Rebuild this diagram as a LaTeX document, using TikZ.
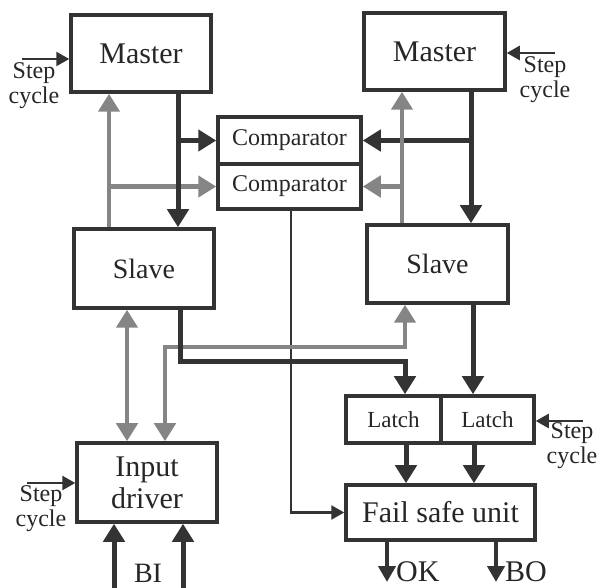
\documentclass[tikz,border=0pt]{standalone}
\usepackage{fontspec}
\setmainfont{Liberation Serif}
\usetikzlibrary{arrows.meta}
\definecolor{dk}{HTML}{333333}
\definecolor{gr}{HTML}{858585}
\begin{document}
\begin{tikzpicture}[x=1pt,y=-1pt,
  box/.style={draw=dk, line width=3.5pt, rectangle, inner sep=0pt, text=black!85},
  fs/.style={font=\fontsize{#1}{#1}\selectfont},
  lbl/.style={text=black!85, inner sep=0pt, align=center, font=\fontsize{24}{25}\selectfont},
  dkarrow/.style={draw=dk, line width=5pt, -{Triangle[length=18pt,width=21pt]}},
  grarrow/.style={draw=gr, line width=4.5pt, -{Triangle[length=18pt,width=21pt]}},
  grboth/.style={draw=gr, line width=4.5pt, {Triangle[length=18pt,width=21pt]}-{Triangle[length=18pt,width=21pt]}},
  thinarrow/.style={draw=dk, line width=2.5pt, -{Triangle[length=13pt,width=14pt]}},
  outarrow/.style={draw=dk, line width=4pt, -{Triangle[length=16pt,width=17pt]}}
]
\useasboundingbox (0,0) rectangle (598,588);

% boxes
\node[box, fs=30, minimum width=140pt, minimum height=77pt] (LM) at (141,53.5) {Master};
\node[box, fs=30, minimum width=141pt, minimum height=77pt] (RM) at (434.5,51.5) {Master};
\node[box, fs=24, minimum width=143pt, minimum height=47pt] (CT) at (289.5,140.5) {Comparator};
\node[box, fs=24, minimum width=143pt, minimum height=45pt] (CB) at (289.5,186.5) {Comparator};
\node[box, fs=28, minimum width=140pt, minimum height=79pt] (LS) at (144,268.5) {Slave};
\node[box, fs=28, minimum width=141pt, minimum height=78pt] (RS) at (437.5,264) {Slave};
\node[box, align=center, font=\fontsize{30}{32}\selectfont, minimum width=140pt, minimum height=79pt] (ID) at (147,482.5) {Input\\driver};
\node[box, fs=23, minimum width=95pt, minimum height=47pt] (LL) at (393.5,419.5) {Latch};
\node[box, fs=23, minimum width=93pt, minimum height=47pt] (LR) at (487.5,419.5) {Latch};
\node[box, fs=30, minimum width=189pt, minimum height=55pt] (FSU) at (440.5,512.5) {Fail safe unit};

% step cycle labels
\node[lbl] (sc1) at (34,86) {Step\\cycle};
\node[lbl] (sc2) at (545,80) {Step\\cycle};
\node[lbl] (sc3) at (41,509) {Step\\cycle};
\node[lbl] (sc4) at (572,446) {Step\\cycle};
\coordinate (s1) at (22,59);
\coordinate (s2) at (555,53);
\coordinate (s3) at (27,483);
\coordinate (s4) at (583,421);
\draw[thinarrow] (s1) -- (LM.west |- s1);
\draw[thinarrow] (s2) -- (RM.east |- s2);
\draw[thinarrow] (s3) -- (ID.west |- s3);
\draw[thinarrow] (s4) -- (LR.east |- s4);

% grey connectors (left)
\draw[grarrow] (LS.north -| 109,0) -- (LM.south -| 109,0);
\draw[grarrow] (CB.west -| 109,0) -- (CB.west);
% dark connectors (left)
\draw[dkarrow] (LM.south -| 178,0) -- (LS.north -| 178,0);
\draw[dkarrow] (CT.west -| 178,0) -- (CT.west);

% dark connectors (right)
\draw[dkarrow] (RM.south -| 471,0) -- (RS.north -| 471,0);
\draw[dkarrow] (CT.east -| 471,0) -- (CT.east);
% grey connectors (right)
\draw[grarrow] (RS.north -| 402,0) -- (RM.south -| 402,0);
\draw[grarrow] (CB.east -| 402,0) -- (CB.east);

% comparator to fail safe unit
\draw[thinarrow] (CB.south -| 291,0) |- (FSU.west);

% slave to input driver / latches
\draw[grboth] (LS.south -| 127,0) -- (ID.north -| 127,0);
\coordinate (g1) at (165,347);
\draw[grboth] (ID.north -| g1) -- (g1) -| (RS.south -| 405,0);
\coordinate (d1) at (180,362);
\draw[dkarrow] (LS.south -| d1) -- (d1) -| (LL.north -| 405,0);
\draw[dkarrow] (RS.south -| 473,0) -- (LR.north -| 473,0);

% latches to fail safe unit
\draw[dkarrow] (LL.south -| 406,0) -- (FSU.north -| 406,0);
\draw[dkarrow] (LR.south -| 474,0) -- (FSU.north -| 474,0);

% BI inputs
\coordinate (b1) at (114,590);
\coordinate (b2) at (183,590);
\draw[dkarrow] (b1) -- (ID.south -| b1);
\draw[dkarrow] (b2) -- (ID.south -| b2);
\node[text=black!85, fs=28, inner sep=0pt, anchor=base] (BI) at (148,582) {BI};

% outputs
\coordinate (o1) at (387,582);
\coordinate (o2) at (496,582);
\draw[outarrow] (FSU.south -| o1) -- (o1);
\draw[outarrow] (FSU.south -| o2) -- (o2);
\node[text=black!85, fs=30, inner sep=0pt, anchor=base west] (OK) at (396,581) {OK};
\node[text=black!85, fs=30, inner sep=0pt, anchor=base west] (BO) at (505,581) {BO};
\end{tikzpicture}
\end{document}
